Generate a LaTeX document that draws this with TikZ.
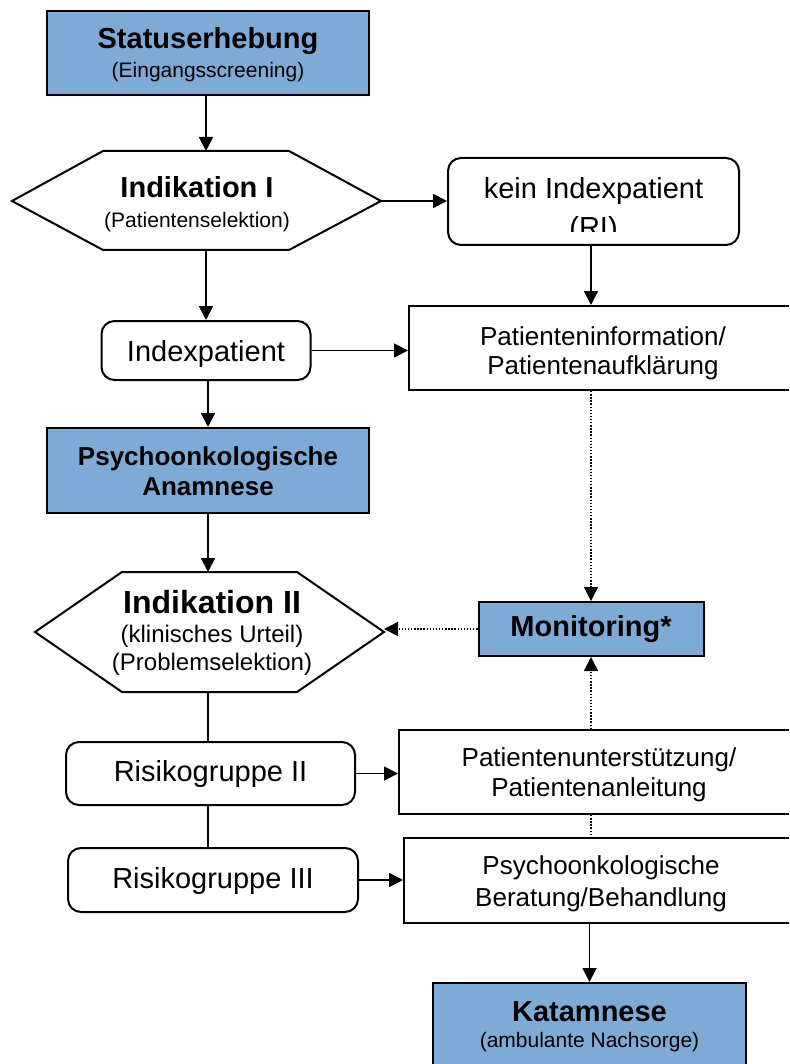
\documentclass[tikz,border=0pt]{standalone}
\usepackage{fontspec}
\setmainfont{Liberation Sans}
\usetikzlibrary{arrows.meta}
\definecolor{boxblue}{RGB}{127,170,213}
\begin{document}
\begin{tikzpicture}[x=1pt,y=-1pt,
  base/.style={draw=black, line width=2pt, inner sep=0pt},
  plainbox/.style={base},
  bluebox/.style={base, fill=boxblue},
  roundbox/.style={base, rounded corners=13pt},
  txt/.style={inner sep=0pt, align=center},
  hexa/.style={draw=black, line width=2pt},
  conn/.style={line width=1.8pt, -{Triangle[length=14pt,width=14pt]}},
  link/.style={line width=1.8pt},
  dotconn/.style={line width=1.4pt, dash pattern=on 1.4pt off 1.7pt, -{Triangle[length=14pt,width=14pt]}},
  dotlink/.style={line width=1.4pt, dash pattern=on 1.4pt off 1.7pt}
]
\useasboundingbox (0,0) rectangle (789,1064);
\clip (0,0) rectangle (789,1064);

% ---- left column
\node[bluebox, minimum width=322pt, minimum height=84pt] (stat) at (208,53) {};
\node[txt, font=\fontsize{29}{28.5}\selectfont] (stattxt) at (208,54.5)
  {{\bfseries Statuserhebung}\\{\fontsize{21}{28.5}\selectfont (Eingangsscreening)}};

\coordinate (h1w) at (12,201);
\coordinate (h1nw) at (103,151);
\coordinate (h1ne) at (289,151);
\coordinate (h1e) at (381,201);
\coordinate (h1se) at (289,250);
\coordinate (h1sw) at (103,250);
\coordinate (h1n) at (206,151);
\coordinate (h1s) at (206,250);
\draw[hexa] (h1w) -- (h1nw) -- (h1ne) -- (h1e) -- (h1se) -- (h1sw) -- cycle;
\node[txt, font=\fontsize{29}{29.5}\selectfont] (h1txt) at (197,204)
  {{\bfseries Indikation I}\\{\fontsize{21}{29.5}\selectfont (Patientenselektion)}};

\node[roundbox, minimum width=209pt, minimum height=59pt] (idx) at (206,350.5) {};
\node[txt, font=\fontsize{29}{33}\selectfont] (idxtxt) at (206,354.2) {Indexpatient};

\node[bluebox, minimum width=322pt, minimum height=85pt] (anam) at (208,470.5) {};
\node[txt, font=\fontsize{26}{30}\selectfont\bfseries] (anamtxt) at (208,471)
  {Psychoonkologische\\Anamnese};

\coordinate (h2w) at (35,632);
\coordinate (h2nw) at (122,572);
\coordinate (h2ne) at (297,572);
\coordinate (h2e) at (384,632);
\coordinate (h2se) at (297,692);
\coordinate (h2sw) at (122,692);
\coordinate (h2n) at (208,572);
\coordinate (h2s) at (208,692);
\draw[hexa] (h2w) -- (h2nw) -- (h2ne) -- (h2e) -- (h2se) -- (h2sw) -- cycle;
\node[txt, font=\fontsize{32}{28.5}\selectfont] (h2txt) at (212,633)
  {{\bfseries Indikation II}\\{\fontsize{24}{28.5}\selectfont (klinisches Urteil)}\\{\fontsize{24}{28.5}\selectfont (Problemselektion)}};

\node[roundbox, minimum width=289pt, minimum height=63pt] (rii) at (210.5,773.5) {};
\node[txt, font=\fontsize{29}{33}\selectfont] (riitxt) at (210.5,774.2) {Risikogruppe II};

\node[roundbox, minimum width=290pt, minimum height=64pt] (riii) at (213,880) {};
\node[txt, font=\fontsize{29}{33}\selectfont] (riiitxt) at (213,880.8) {Risikogruppe III};

% ---- right column
\node[roundbox, minimum width=291pt, minimum height=87pt] (kein) at (593.5,201.5) {};
\begin{scope}
  \clip (448,158) rectangle (739,231.5);
  \node[txt, font=\fontsize{29}{39}\selectfont] (keintxt) at (593.5,210.4) {kein Indexpatient\\(RI)};
\end{scope}

\node[plainbox, minimum width=388pt, minimum height=84pt] (pinfo) at (603,348) {};
\node[txt, font=\fontsize{26}{29.5}\selectfont] (pinfotxt) at (603,353.5)
  {Patienteninformation/\\Patientenaufklärung};

\node[bluebox, minimum width=225pt, minimum height=54pt] (mon) at (591,629) {};
\node[txt, font=\fontsize{29}{33}\selectfont\bfseries] (montxt) at (591,629.5) {Monitoring*};

\node[plainbox, minimum width=398pt, minimum height=84pt] (punt) at (598,772) {};
\node[txt, font=\fontsize{26}{30.5}\selectfont] (punttxt) at (599,775)
  {Patientenunterstützung/\\Patientenanleitung};

\node[plainbox, minimum width=393pt, minimum height=85pt] (ber) at (600.5,880.5) {};
\node[txt, font=\fontsize{26}{32}\selectfont] (bertxt) at (601,884)
  {Psychoonkologische\\Beratung/Behandlung};

\node[bluebox, minimum width=313pt, minimum height=86pt] (kat) at (589.5,1026) {};
\node[txt, font=\fontsize{29}{26}\selectfont] (kattxt) at (589.5,1026.5)
  {{\bfseries Katamnese}\\{\fontsize{21}{26}\selectfont (ambulante Nachsorge)}};

% ---- connectors
\draw[conn] (stat.south -| h1n) -- (h1n);
\draw[conn] (h1e) -- (kein.west |- h1e);
\draw[conn] (kein.south -| mon.north) -- (pinfo.north -| mon.north);
\draw[conn] (h1s) -- (idx.north -| h1s);
\draw[conn] (idx.east) -- (pinfo.west |- idx.east);
\draw[conn] (idx.south -| h2n) -- (anam.north -| h2n);
\draw[conn] (anam.south -| h2n) -- (h2n);
\draw[dotconn] (pinfo.south -| mon.north) -- (mon.north);
\draw[dotconn] (mon.west) -- (mon.west -| h2e);
\draw[link] (h2s) -- (rii.north -| h2s);
\draw[link] (rii.south -| h2s) -- (riii.north -| h2s);
\draw[conn] (rii.east) -- (punt.west |- rii.east);
\draw[dotconn] (punt.north -| mon.south) -- (mon.south);
\draw[dotlink] (punt.south -| mon.south) -- (ber.north -| mon.south);
\draw[conn] (riii.east) -- (ber.west |- riii.east);
\draw[conn] (ber.south -| kat.north) -- (kat.north);
\end{tikzpicture}
\end{document}
